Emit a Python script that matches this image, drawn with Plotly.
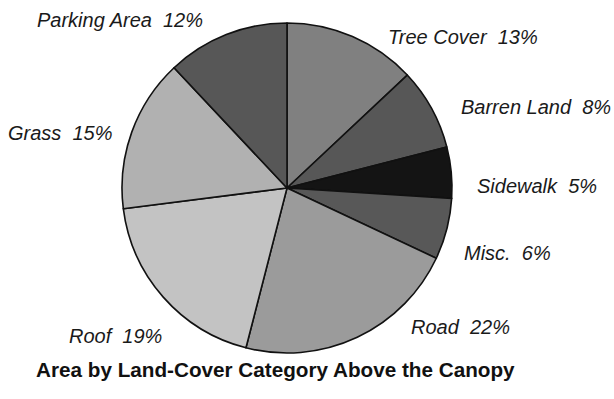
import plotly.graph_objects as go

categories = ["Tree Cover", "Barren Land", "Sidewalk", "Misc.", "Road", "Roof", "Grass", "Parking Area"]
percents = [13, 8, 5, 6, 22, 19, 15, 12]
colors = ["#808080", "#575757", "#141414", "#585858", "#9b9b9b", "#c3c3c3", "#b1b1b1", "#575757"]
title = "Area by Land-Cover Category Above the Canopy"

# label anchor positions in pixels (layout only)
label_pos = [(463, 37), (536, 107), (537, 186), (507, 253), (460, 327), (115, 336), (60, 133), (120, 20)]

W, H = 614, 399
cx, cy, r = 287, 188, 165

fig = go.Figure(go.Pie(
    labels=categories,
    values=percents,
    sort=False,
    direction="clockwise",
    rotation=0,
    marker=dict(colors=colors, line=dict(color="#111111", width=1.6)),
    textinfo="none",
    hoverinfo="label+percent",
    showlegend=False,
    domain=dict(x=[(cx - r) / W, (cx + r) / W], y=[1 - (cy + r) / H, 1 - (cy - r) / H]),
))

annotations = []
for name, p, (px, py) in zip(categories, percents, label_pos):
    annotations.append(dict(
        text=f"<i>{name}\u00a0\u00a0{p}%</i>",
        x=px / W, y=1 - py / H, xref="paper", yref="paper",
        xanchor="center", yanchor="middle", showarrow=False,
        font=dict(family="Liberation Sans, Arial, sans-serif", size=20, color="#1a1a1a"),
    ))
annotations.append(dict(
    text=f"<b>{title}</b>",
    x=275 / W, y=1 - 369 / H, xref="paper", yref="paper",
    xanchor="center", yanchor="middle", showarrow=False,
    font=dict(family="Liberation Sans, Arial, sans-serif", size=20.7, color="#111111"),
))

fig.update_layout(
    width=W, height=H,
    margin=dict(l=0, r=0, t=0, b=0),
    paper_bgcolor="white", plot_bgcolor="white",
    annotations=annotations,
)

fig.write_html("out.html")
